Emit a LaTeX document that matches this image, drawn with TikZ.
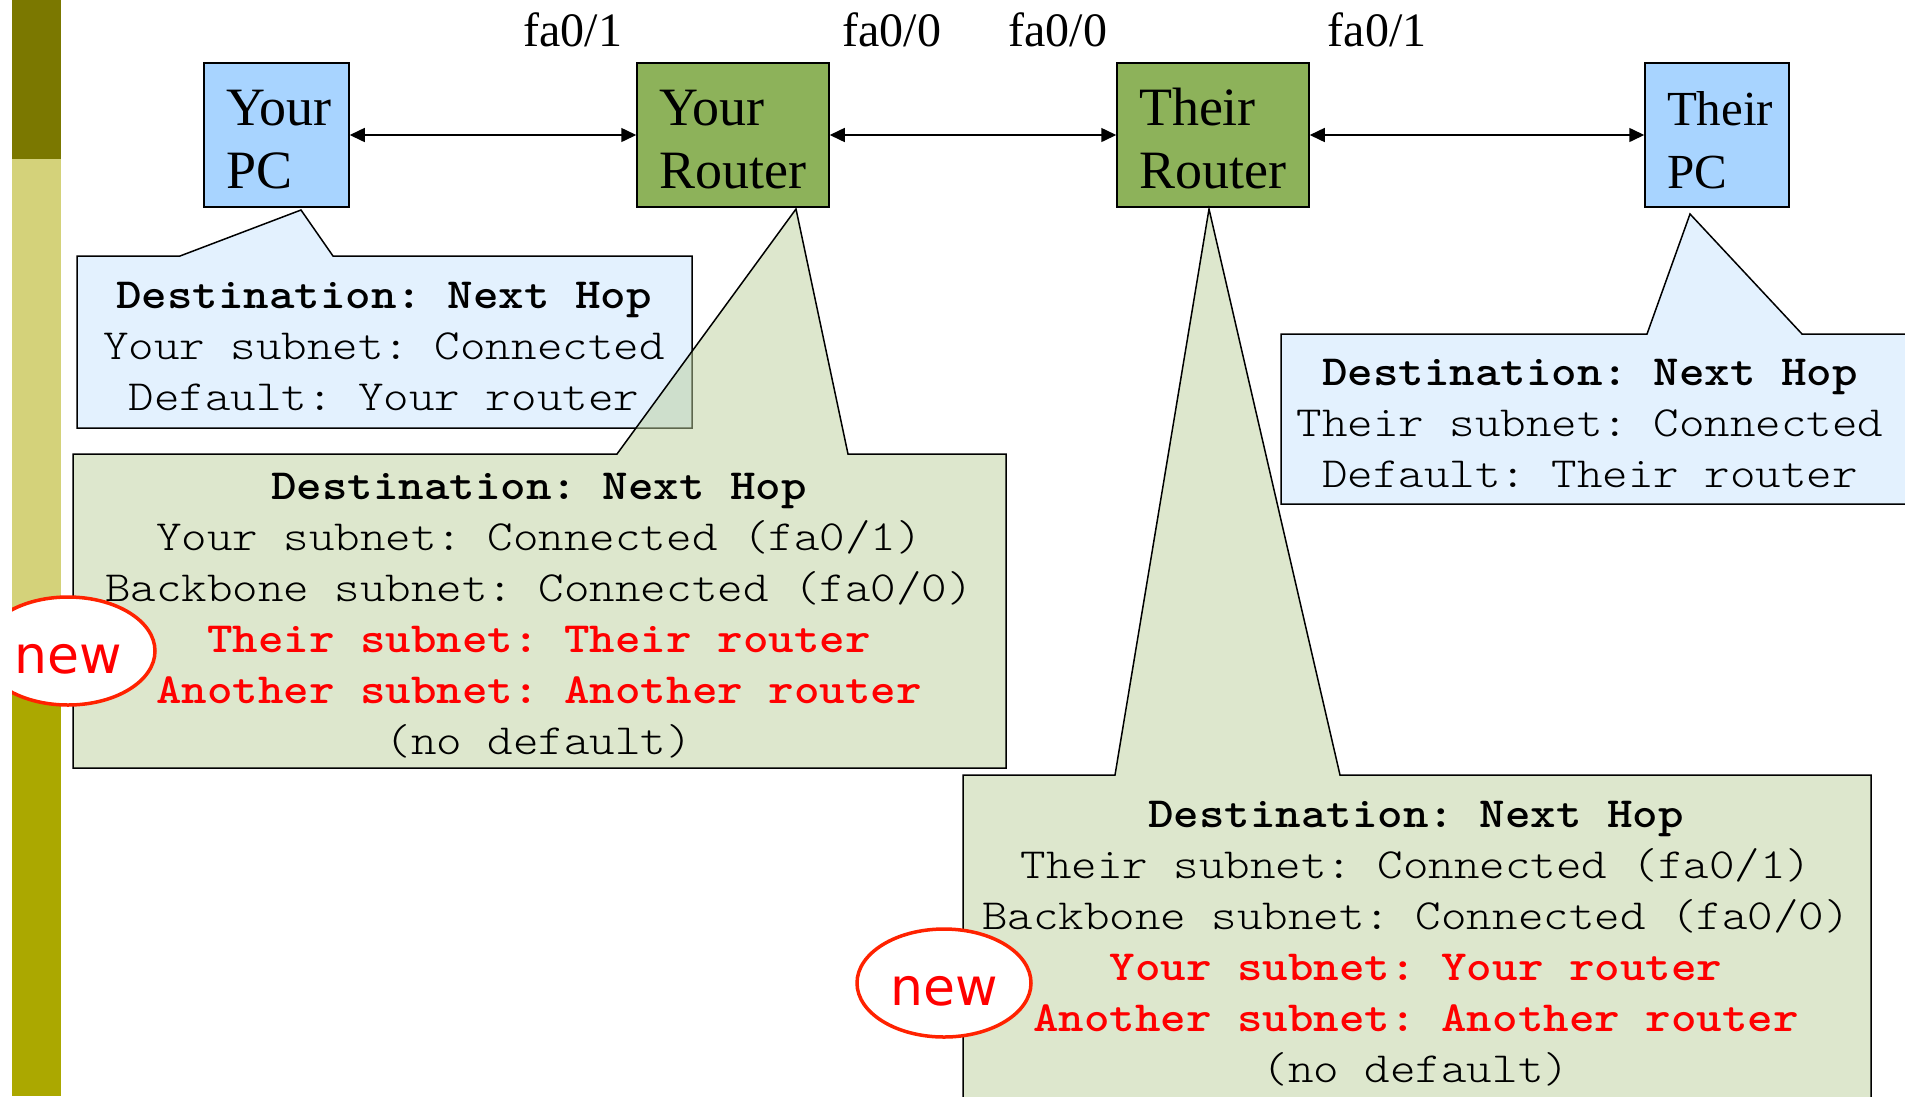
\documentclass[tikz,border=0pt]{standalone}
\usepackage{fontspec}
\setmainfont{Liberation Serif}
\newfontfamily\monofont[BoldFont=lmmonolt10-bold.otf, FakeStretch=1.13]{lmmonolt10-regular.otf}
\newfontfamily\nwfont{DejaVu Sans}
\usetikzlibrary{arrows.meta,shapes.geometric}
\frenchspacing

\definecolor{bardark}{HTML}{7B7800}
\definecolor{barlight}{HTML}{D4D27A}
\definecolor{barmid}{HTML}{ABA800}
\definecolor{pcblue}{HTML}{A8D4FF}
\definecolor{routergreen}{HTML}{8DB25A}
\definecolor{calloutblue}{HTML}{E3F1FE}
\definecolor{calloutgreen}{HTML}{BBCF9B}
\definecolor{newred}{HTML}{FF2200}

\newcommand\ls{\rule[-12.75pt]{0pt}{51pt}}
\newcommand\fl{\rule{0pt}{45pt}}

\begin{document}
\begin{tikzpicture}[x=1pt,y=-1pt,
  box/.style={draw=black, line width=1.5pt, minimum height=144pt, inner xsep=22pt, inner ysep=0pt, align=left, font=\fontsize{54}{63}\selectfont},
  pcbox/.style={box, fill=pcblue},
  routerbox/.style={box, fill=routergreen},
  link/.style={arrows={Triangle[length=15pt,width=14pt]-Triangle[length=15pt,width=14pt]}, line width=1.5pt},
  callout/.style={draw=black, line width=1.5pt},
  bluecallout/.style={callout, fill=calloutblue},
  greencallout/.style={callout, fill=calloutgreen, fill opacity=0.5},
  tabletext/.style={align=center, inner sep=0pt, font=\monofont\fontsize{43}{51}\selectfont},
  fa/.style={font=\fontsize{48}{56}\selectfont, anchor=base, inner sep=0pt},
  newmark/.style={ellipse, draw=newred, line width=3.5pt, fill=white, minimum width=174pt, minimum height=108pt, inner sep=0pt, text=red, text height=44pt, text depth=0pt, font=\nwfont\fontsize{52}{60}\selectfont}
]
\useasboundingbox (0,0) rectangle (1905,1096);
\clip (0,0) rectangle (1905,1096);

% side bar
\fill[bardark] (12,0) rectangle (61,159);
\fill[barlight] (12,159) rectangle (61,650);
\fill[barmid] (12,650) rectangle (61,1096);

% devices
\node[pcbox, text width=101pt] (yourpc) at (276.5,135) {\fl Your\\PC};
\node[routerbox, text width=148pt] (yourrouter) at (733,135) {\fl Your\\Router};
\node[routerbox, text width=148pt] (theirrouter) at (1213,135) {\fl Their\\Router};
\node[pcbox, text width=100pt, font=\fontsize{49}{63}\selectfont] (theirpc) at (1717,135) {\fl Their\\PC};

\draw[link] (yourpc.east) -- (yourrouter.west);
\draw[link] (yourrouter.east) -- (theirrouter.west);
\draw[link] (theirrouter.east) -- (theirpc.west);

% interface labels
\node[fa] (fa1) at (573,46) {fa0/1};
\node[fa] (fa2) at (892,46) {fa0/0};
\node[fa] (fa3) at (1058,46) {fa0/0};
\node[fa] (fa4) at (1377,46) {fa0/1};

% callouts
\draw[bluecallout] (77,256) -- (180,256) -- (301,210) -- (333,256) -- (692,256) -- (692,428) -- (77,428) -- cycle;
\node[tabletext] (t1) at (384,347) {\ls\textbf{Destination: Next Hop}\\\ls Your subnet: Connected\\\ls Default: Your router};

\draw[greencallout] (73,454) -- (617,454) -- (796,209) -- (848,454) -- (1006,454) -- (1006,768) -- (73,768) -- cycle;
\node[tabletext] (t2) at (539,614.5) {\ls\textbf{Destination: Next Hop}\\\ls Your subnet: Connected (fa0/1)\\\ls Backbone subnet: Connected (fa0/0)\\\ls\textcolor{red}{\textbf{Their subnet: Their router}}\\\ls\textcolor{red}{\textbf{Another subnet: Another router}}\\\ls (no default)};

\draw[bluecallout] (1281,334) -- (1647,334) -- (1690,214) -- (1802,334) -- (1920,334) -- (1920,504) -- (1281,504) -- cycle;
\node[tabletext] (t4) at (1590,424) {\ls\textbf{Destination: Next Hop}\\\ls Their subnet: Connected\\\ls Default: Their router};

\draw[greencallout] (963,775) -- (1115,775) -- (1209,209) -- (1340,775) -- (1871,775) -- (1871,1120) -- (963,1120) -- cycle;
\node[tabletext] (t3) at (1416,942) {\ls\textbf{Destination: Next Hop}\\\ls Their subnet: Connected (fa0/1)\\\ls Backbone subnet: Connected (fa0/0)\\\ls\textcolor{red}{\textbf{Your subnet: Your router}}\\\ls\textcolor{red}{\textbf{Another subnet: Another router}}\\\ls (no default)};

% "new" marks
\node[newmark] (new1) at (68,651) {new};
\node[newmark] (new2) at (944,983) {new};

% left margin
\fill[white] (0,0) rectangle (12,1096);
\end{tikzpicture}
\end{document}
